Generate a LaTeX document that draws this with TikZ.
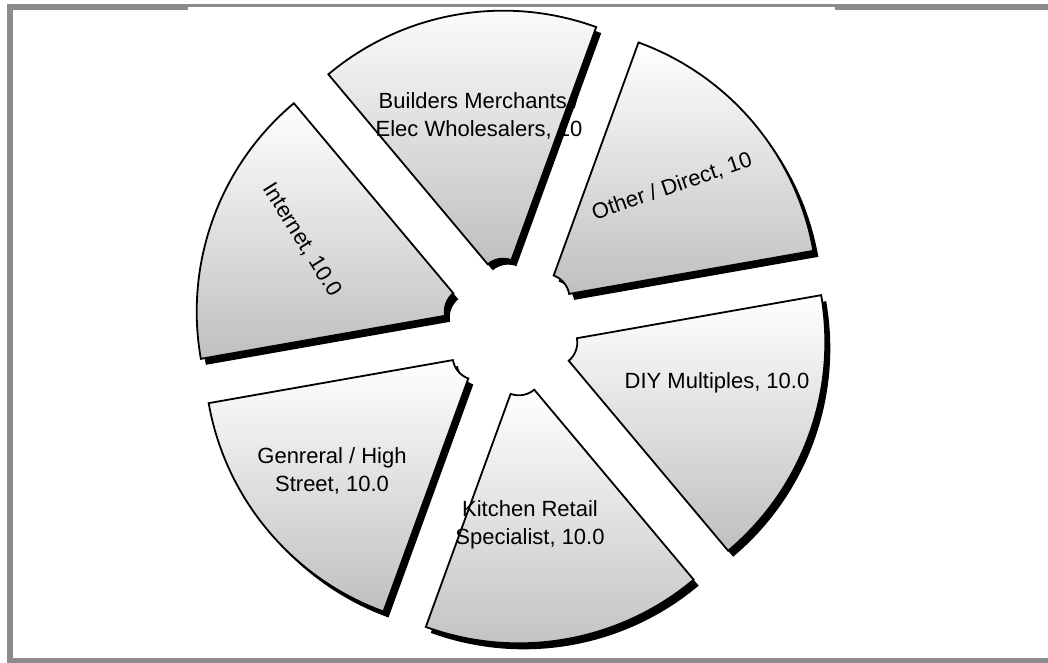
\documentclass[tikz,border=0pt]{standalone}
\usepackage{fontspec}
\setmainfont{Liberation Sans}
\usepackage{tikz}
\usetikzlibrary{calc}

\begin{document}
\begin{tikzpicture}[x=1pt, y=1pt,
	slice/.style={draw=black, line width=1.8pt, top color=white, bottom color=black!25},
	sliceshadow/.style={fill=black},
	lbl/.style={align=center, inner sep=0pt, font=\fontsize{22}{27.5}\selectfont}
]

\useasboundingbox (0,0) rectangle (1048,663);

% frame
\fill [black!45] (7,0) rectangle (13,659);
\fill [black!45] (7,653) rectangle (1048,659);
\fill [black!45] (7,0) rectangle (1048,5);
\fill [white] (188,653) rectangle (835,656);

\coordinate (c) at (511,336);

% shadows first
\foreach \mid in {40,100,160,220,280,340} {
	\fill [sliceshadow, shift={($(c)+(\mid:45)+(5,-6)$)}]
		({\mid-30}:24) -- ({\mid-30}:272) arc [start angle=\mid-30, end angle=\mid+30, radius=272]
		-- ({\mid+30}:24) arc [start angle=\mid+30, end angle=\mid-30, radius=24] -- cycle;
}

% slices
\foreach \mid in {40,100,160,220,280,340} {
	\path [slice, shift={($(c)+(\mid:45)$)}]
		({\mid-30}:24) -- ({\mid-30}:272) arc [start angle=\mid-30, end angle=\mid+30, radius=272]
		-- ({\mid+30}:24) arc [start angle=\mid+30, end angle=\mid-30, radius=24] -- cycle;
}

\node [lbl] (builders) at (479,547) {Builders Merchants /\\Elec Wholesalers, 10};

\node [lbl, rotate=19] (other) at (672,476) {Other / Direct, 10};

\node [lbl, rotate=-58] (internet) at (302,423) {Internet, 10.0};

\node [lbl] (diy) at (717,280) {DIY Multiples, 10.0};

\node [lbl] (general) at (332,192) {Genreral / High\\Street, 10.0};

\node [lbl] (kitchen) at (530,138) {Kitchen Retail\\Specialist, 10.0};

\end{tikzpicture}
\end{document}
